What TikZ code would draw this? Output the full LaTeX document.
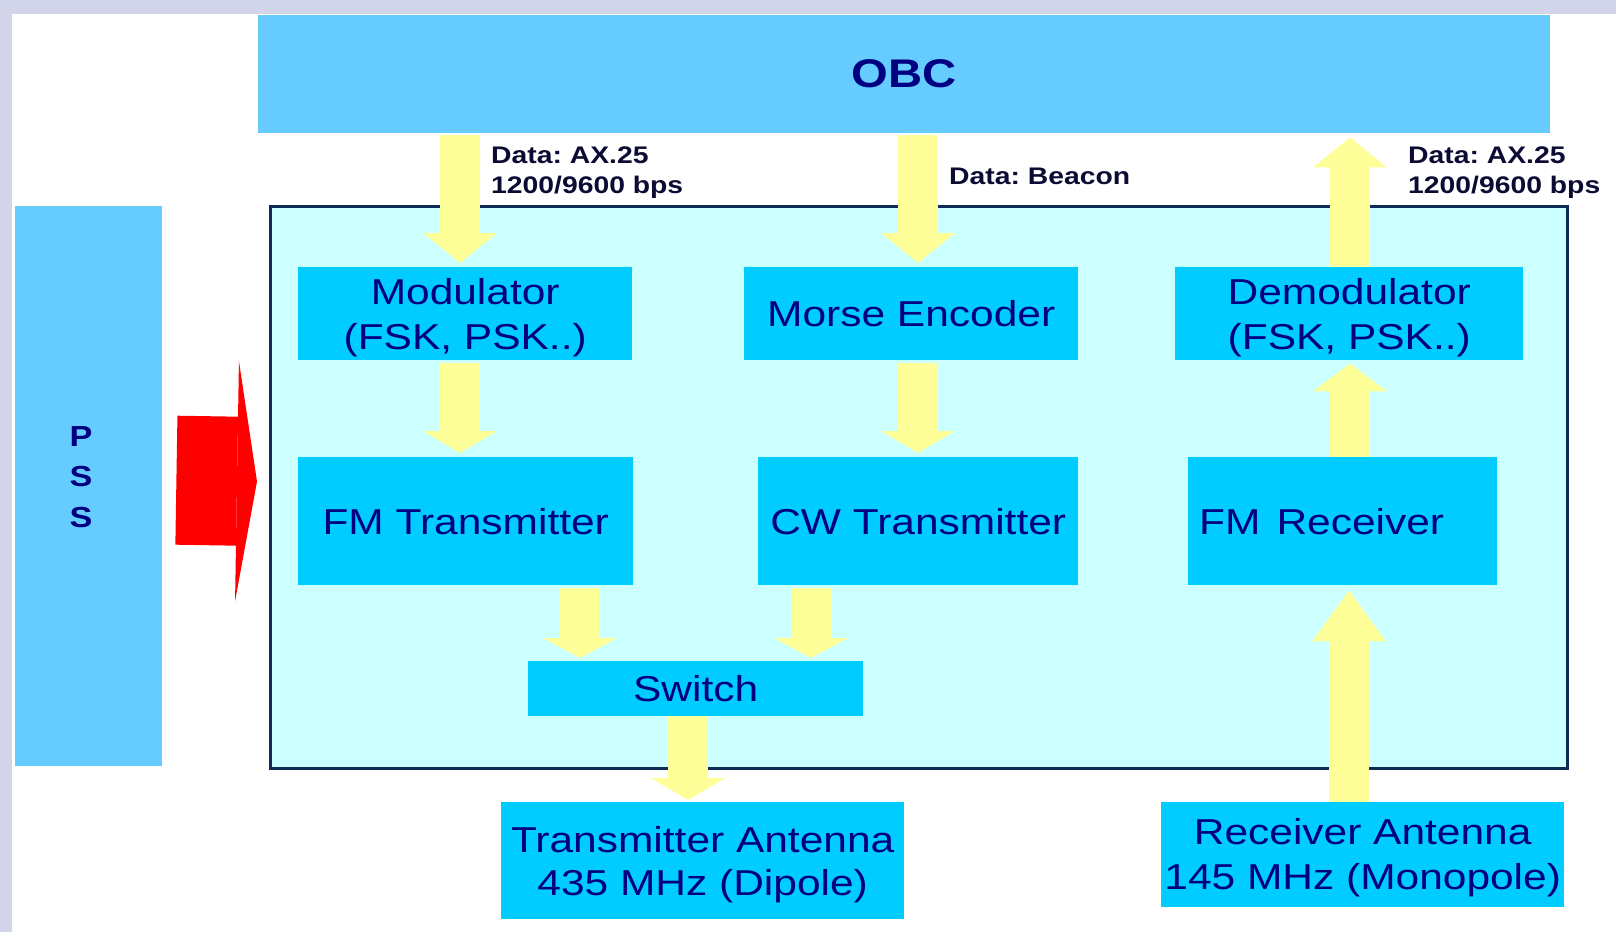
\documentclass[tikz,border=0pt]{standalone}
\usepackage{fontspec}
\setmainfont{Liberation Sans}[FakeStretch=1.18]
\usetikzlibrary{arrows.meta,calc}
\frenchspacing
\definecolor{lav}{HTML}{D2D4EA}
\definecolor{obcfill}{HTML}{66CCFF}
\definecolor{mainfill}{HTML}{CCFFFF}
\definecolor{boxfill}{HTML}{00CCFF}
\definecolor{navytxt}{HTML}{000080}
\definecolor{framecol}{HTML}{0D2B55}
\definecolor{yellowarr}{HTML}{FFFF99}
\definecolor{lbl}{HTML}{0B0B33}
\newcommand{\lift}{\rule{0pt}{34pt}}
\begin{document}
\begin{tikzpicture}[x=1pt,y=-1pt,
  blk/.style={fill=boxfill, draw=none, text=navytxt, anchor=north west, inner sep=0pt, align=center, font=\fontsize{36}{45}\selectfont},
  bigblk/.style={fill=obcfill, draw=none, text=navytxt, anchor=north west, inner sep=0pt, align=center, font=\bfseries\fontsize{40}{48}\selectfont},
  lblnode/.style={anchor=west, inner sep=0pt, align=left, text=lbl, font=\bfseries\fontsize{24}{30}\selectfont},
  yarr/.style={draw=yellowarr, line width=40pt, -{Triangle[width=74pt, length=#1, line width=0pt]}},
  yarr/.default=28pt
]
\fill[lav] (0,0) rectangle (1616,932);
\fill[white] (12,14) rectangle (1616,932);
\useasboundingbox (0,0) rectangle (1616,932);

% main frame
\node[draw=framecol, line width=3pt, fill=mainfill, anchor=north west, inner sep=0pt,
      minimum width=1297pt, minimum height=562pt] (main) at (269,205) {};

% top and side blocks
\node[bigblk, minimum width=1292pt, minimum height=118pt] (obc) at (258,15) {OBC};
\node[bigblk, minimum width=147pt, minimum height=560pt] (pss) at (15,206) {};
\node[text=navytxt, inner sep=0pt, align=center, font=\bfseries\fontsize{29}{40.5}\selectfont] (psstext) at (81,477) {P\\S\\S};

% inner blocks
\node[blk, minimum width=334pt, minimum height=93pt] (mod) at (298,267) {\lift Modulator\\(FSK, PSK..)};
\node[blk, minimum width=334pt, minimum height=93pt] (morse) at (744,267) {Morse Encoder};
\node[blk, minimum width=348pt, minimum height=93pt] (demod) at (1175,267) {\lift Demodulator\\(FSK, PSK..)};
\node[blk, minimum width=335pt, minimum height=128pt] (fmtx) at (298,457) {FM Transmitter};
\node[blk, minimum width=320pt, minimum height=128pt] (cwtx) at (758,457) {CW Transmitter};
\node[blk, minimum height=128pt, text width=287pt, inner xsep=11pt, align=left] (fmrx) at (1188,457) {FM\hspace{4pt} Receiver};
\node[blk, minimum width=335pt, minimum height=55pt] (switch) at (528,661) {Switch};
\node[blk, minimum width=403pt, minimum height=117pt, font=\fontsize{36}{43}\selectfont] (txant) at (501,802) {\lift Transmitter Antenna\\435 MHz (Dipole)};
\node[blk, minimum width=403pt, minimum height=105pt] (rxant) at (1161,802) {\rule{0pt}{32pt}Receiver Antenna\\145 MHz (Monopole)};

% labels
\node[lblnode] (l1) at (491,173) {Data: AX.25\\1200/9600 bps};
\node[lblnode] (l2) at (949,176) {Data: Beacon};
\node[lblnode] (l3) at (1408,173) {Data: AX.25\\1200/9600 bps};

% red power arrow
\draw[draw=red, line width=129pt, -{Triangle[width=240pt, length=20pt, line width=0pt]}]
  ($(pss.east)+(14,-6)$) -- ($(main.west)+(-12,-6)$);

% yellow data arrows
\draw[yarr=30pt, shorten <=2pt, shorten >=4pt] (obc.south -| 460,0) -- (mod.north -| 460,0);
\draw[yarr=30pt, shorten <=2pt, shorten >=4pt] (obc.south -| 918,0) -- (morse.north -| 918,0);
\draw[yarr=30pt, shorten >=4pt] (demod.north -| 1350,0) -- (obc.south -| 1350,0);
\draw[yarr=22pt, shorten <=3pt, shorten >=4pt] (mod.south -| 460,0) -- (fmtx.north -| 460,0);
\draw[yarr=22pt, shorten <=3pt, shorten >=4pt] (morse.south -| 918,0) -- (cwtx.north -| 918,0);
\draw[yarr=28pt, shorten >=3pt] (fmrx.north -| 1350,0) -- (demod.south -| 1350,0);
\draw[yarr=20pt, shorten <=3pt, shorten >=3pt] (fmtx.south -| 580,0) -- (switch.north -| 580,0);
\draw[yarr=20pt, shorten <=3pt, shorten >=3pt] (cwtx.south -| 811,0) -- (switch.north -| 811,0);
\draw[yarr=22pt, shorten >=2pt] (switch.south -| 688,0) -- (txant.north -| 688,0);
\draw[yarr=51pt, shorten >=5pt] (rxant.north -| 1349,0) -- (fmrx.south -| 1349,0);
\end{tikzpicture}
\end{document}
